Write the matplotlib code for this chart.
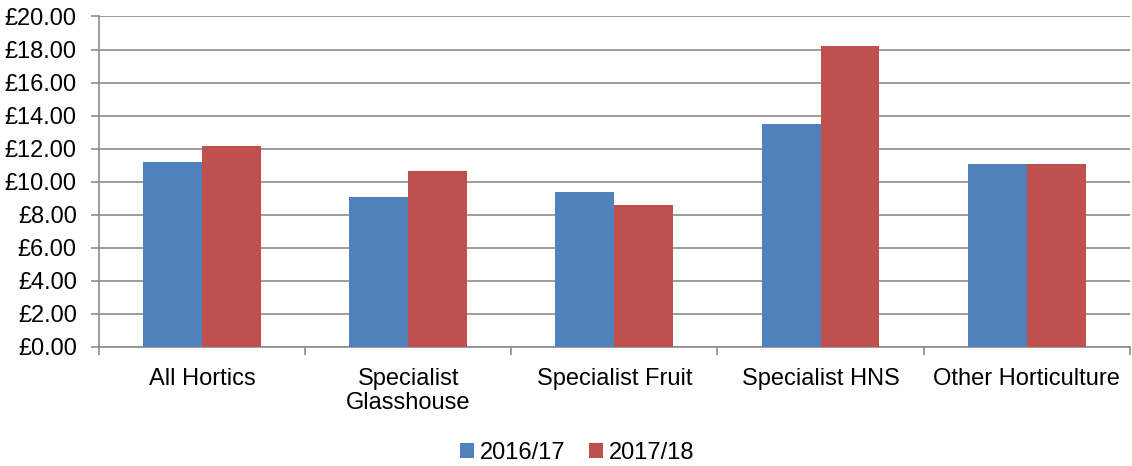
import numpy as np
import matplotlib.pyplot as plt
from matplotlib.ticker import FixedLocator

plt.rcParams['font.family'] = ['Liberation Sans', 'DejaVu Sans']

categorias = ['All Hortics', 'Specialist\nGlasshouse', 'Specialist Fruit',
              'Specialist HNS', 'Other Horticulture']
serie_2016 = [11.17, 9.10, 9.38, 13.48, 11.10]
serie_2017 = [12.18, 10.68, 8.60, 18.22, 11.10]
etiquetas = ['2016/17', '2017/18']

azul = '#4F81BD'
rojo = '#C0504D'
gris = '#8C8C8C'
tam = 17

fig = plt.figure(figsize=(11.32, 4.66), dpi=100)
ax = fig.add_axes([0.0875, 0.2554, 0.9105, 0.7092])

x = np.arange(len(categorias))
ancho = 0.286
ax.bar(x - ancho / 2, serie_2016, ancho, color=azul, label=etiquetas[0], zorder=3)
ax.bar(x + ancho / 2, serie_2017, ancho, color=rojo, label=etiquetas[1], zorder=3)

ax.set_xlim(-0.5, len(categorias) - 0.5)
ax.set_ylim(0, 20)
ax.set_yticks(np.arange(0, 21, 2))
ax.set_yticklabels(['£%.2f' % v for v in np.arange(0, 21, 2)], fontsize=tam)
ax.yaxis.grid(True, color=gris, lw=1.2, zorder=0)

ax.set_xticks(x)
ax.set_xticklabels(categorias, fontsize=tam, linespacing=1.15)
ax.tick_params(axis='x', which='major', length=0, pad=15)
ax.xaxis.set_minor_locator(FixedLocator(np.arange(-0.5, len(categorias), 1)))
ax.tick_params(axis='x', which='minor', length=6, color=gris, width=1.2)
ax.tick_params(axis='y', length=6, color=gris, width=1.2, pad=10)

for lado in ['top', 'right']:
    ax.spines[lado].set_visible(False)
for lado in ['left', 'bottom']:
    ax.spines[lado].set_color(gris)
    ax.spines[lado].set_linewidth(1.2)

fig.legend(loc='center', bbox_to_anchor=(0.5097, 0.028), ncol=2, frameon=False,
           fontsize=tam, handlelength=0.6, handleheight=0.6, handletextpad=0.25,
           columnspacing=1.0)

fig.savefig('out.png', dpi=100)
